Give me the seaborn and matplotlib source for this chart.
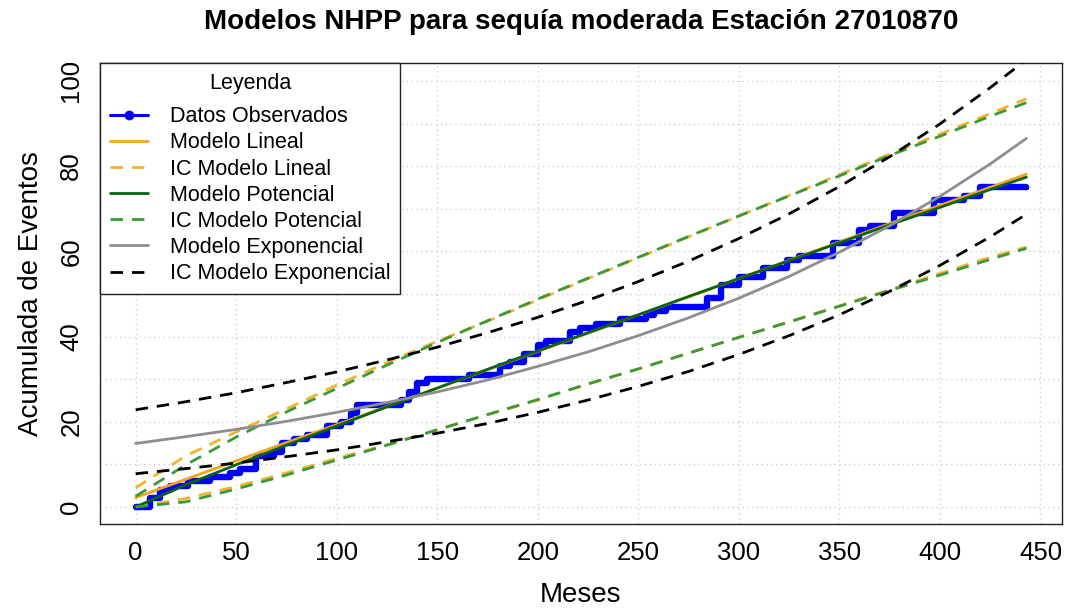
import numpy as np
import pandas as pd
import seaborn as sns
import matplotlib
matplotlib.use("Agg")
import matplotlib.pyplot as plt
from matplotlib.lines import Line2D

# ---------------- data ----------------
obs_mes = [0, 7, 12, 17, 26, 37, 47, 52, 60, 69, 73, 79, 85, 95, 102, 107, 110, 132, 136, 140,
           145, 166, 181, 186, 193, 200, 204, 216, 221, 229, 241, 254, 258, 264, 284, 291, 300, 312, 324, 330,
           347, 360, 365, 377, 397, 412, 420, 443]
obs_acum = [0, 2, 4, 5, 6, 7, 8, 9, 12, 13, 15, 16, 17, 19, 20, 22, 24, 25, 27, 29,
            30, 31, 33, 34, 36, 38, 39, 41, 42, 43, 44, 45, 46, 47, 49, 52, 54, 56, 58, 59,
            62, 65, 66, 69, 72, 73, 75, 75]

mod_mes = [0, 25, 50, 75, 100, 125, 150, 175, 200, 225, 250, 275, 300, 325, 350, 375, 400, 425, 443]
lineal = [2.2, 6.5, 10.8, 15.1, 19.3, 23.6, 27.9, 32.2, 36.5, 40.8, 45.1, 49.3, 53.6, 57.9, 62.2, 66.5, 70.8, 75.0, 78.1]
ic_lin_sup = [4.5, 12.0, 17.6, 23.0, 28.6, 33.9, 38.9, 43.6, 48.6, 53.6, 58.5, 63.4, 68.3, 73.1, 78.0, 82.8, 87.5, 92.3, 95.8]
ic_lin_inf = [0.0, 2.0, 4.8, 8.0, 11.4, 14.6, 18.1, 21.6, 25.1, 28.8, 32.4, 36.1, 39.8, 43.5, 47.2, 51.0, 54.8, 58.6, 61.0]
potencial = [0.0, 5.2, 9.9, 14.5, 19.0, 23.5, 27.9, 32.3, 36.6, 40.9, 45.1, 49.4, 53.6, 57.8, 62.0, 66.2, 70.3, 74.5, 77.4]
ic_pot_sup = [2.5, 9.9, 16.4, 22.3, 27.8, 33.3, 38.6, 43.7, 48.8, 53.7, 58.6, 63.5, 68.3, 73.0, 77.7, 82.5, 87.0, 91.7, 94.9]
ic_pot_inf = [0.0, 1.2, 4.2, 7.5, 11.0, 14.5, 18.1, 21.7, 25.2, 28.9, 32.4, 36.1, 39.8, 43.4, 47.1, 50.8, 54.4, 58.1, 60.7]
exponencial = [14.9, 16.5, 18.2, 20.1, 22.2, 24.5, 27.0, 29.8, 33.0, 36.4, 40.2, 44.4, 49.0, 54.1, 59.8, 66.0, 72.9, 80.5, 86.5]
ic_exp_sup = [22.8, 24.7, 26.8, 29.2, 31.7, 34.5, 37.5, 40.9, 44.5, 48.5, 52.9, 57.7, 63.0, 68.8, 75.2, 82.2, 89.9, 98.4, 105.0]
ic_exp_inf = [7.8, 9.0, 10.3, 11.8, 13.4, 15.3, 17.3, 19.6, 22.2, 25.1, 28.3, 31.8, 35.8, 40.2, 45.1, 50.6, 56.7, 63.4, 68.7]

x_ticks = [0, 50, 100, 150, 200, 250, 300, 350, 400, 450]
y_ticks = [0, 20, 40, 60, 80, 100]
y_grid = [0, 10, 20, 30, 40, 50, 60, 70, 80, 90, 100]

titulo = "Modelos NHPP para sequía moderada Estación 27010870"
etiquetas = ["Datos Observados", "Modelo Lineal", "IC Modelo Lineal", "Modelo Potencial",
             "IC Modelo Potencial", "Modelo Exponencial", "IC Modelo Exponencial"]

# ---------------- style ----------------
sns.set_style("white")
plt.rcParams['font.family'] = ['Liberation Sans', 'DejaVu Sans']
plt.rcParams['text.color'] = 'black'
plt.rcParams['axes.labelcolor'] = 'black'
plt.rcParams['xtick.color'] = 'black'
plt.rcParams['ytick.color'] = 'black'

C_OBS = "#0000FF"
C_LIN = "#F5A31C"
C_ICLIN = "#F2B42C"
C_POT = "#0A6414"
C_ICPOT = "#3A9A3A"
C_EXP = "#8E8E8E"
C_ICEXP = "#000000"
DASH = (4.5, 3.2)

fig = plt.figure(figsize=(10.67, 6.11), dpi=100)
ax = fig.add_axes([100 / 1067, 1 - 524 / 611, 962 / 1067, 461 / 611])

obs = pd.DataFrame({"mes": obs_mes, "acum": obs_acum})
mod = pd.DataFrame({"mes": mod_mes, "lin": lineal, "lin_s": ic_lin_sup, "lin_i": ic_lin_inf,
                    "pot": potencial, "pot_s": ic_pot_sup, "pot_i": ic_pot_inf,
                    "exp": exponencial, "exp_s": ic_exp_sup, "exp_i": ic_exp_inf})

# observed
sns.lineplot(data=obs, x="mes", y="acum", ax=ax, color=C_OBS, lw=4.6,
             drawstyle="steps-post", estimator=None, zorder=3)
sns.scatterplot(data=obs, x="mes", y="acum", ax=ax, color=C_OBS, s=16,
                edgecolor=C_OBS, linewidth=0, zorder=3)


def dashed(col, color, z, lw=2.0):
    sns.lineplot(data=mod, x="mes", y=col, ax=ax, color=color, lw=lw,
                 estimator=None, zorder=z)
    ax.lines[-1].set_dashes(DASH)


sns.lineplot(data=mod, x="mes", y="lin", ax=ax, color=C_LIN, lw=2.0, estimator=None, zorder=4)
dashed("lin_s", C_ICLIN, 4.1)
dashed("lin_i", C_ICLIN, 4.1)
sns.lineplot(data=mod, x="mes", y="pot", ax=ax, color=C_POT, lw=2.0, estimator=None, zorder=4.2)
dashed("pot_s", C_ICPOT, 4.3)
dashed("pot_i", C_ICPOT, 4.3)
sns.lineplot(data=mod, x="mes", y="exp", ax=ax, color=C_EXP, lw=2.0, estimator=None, zorder=4.4)
dashed("exp_s", C_ICEXP, 4.5)
dashed("exp_i", C_ICEXP, 4.5)

# axes
ax.set_xlim(-17.72, 460.72)
ax.set_ylim(-4.0, 104.2)
ax.set_xticks(x_ticks)
ax.set_xticklabels([str(v) for v in x_ticks])
ax.set_yticks(y_ticks)
ax.set_yticklabels([str(v) for v in y_ticks], rotation=90, va="center")
ax.set_yticks(y_grid, minor=True)
ax.tick_params(axis="both", which="major", labelsize=18.5, length=7, width=1,
               color="#222222", labelcolor="black", direction="out")
ax.tick_params(axis="x", which="major", pad=5)
ax.tick_params(axis="y", which="major", pad=5)
ax.tick_params(axis="y", which="minor", length=0)
ax.grid(False)
ax.grid(True, axis="x", which="major", color="#CFCFCF", linestyle=(0, (1, 2.5)), lw=1)
ax.grid(True, axis="y", which="both", color="#CFCFCF", linestyle=(0, (1, 2.5)), lw=1)
ax.set_axisbelow(True)
for s in ax.spines.values():
    s.set_visible(True)
    s.set_color("#222222")
    s.set_linewidth(1.0)

ax.set_xlabel("Meses", fontsize=20, va="center", ha="center", color="black")
ax.xaxis.set_label_coords(0.5, -0.154)
ax.set_ylabel("Acumulada de Eventos", fontsize=20, va="center", ha="center", color="black")
ax.yaxis.set_label_coords(-0.072, 0.5)

fig.text(581 / 1067, 1 - 22 / 611, titulo, ha="center", va="center",
         fontsize=20, fontweight="bold", color="black")

# legend
handles = [
    Line2D([], [], color=C_OBS, lw=2.2, marker="o", ms=6),
    Line2D([], [], color=C_LIN, lw=2.0),
    Line2D([], [], color=C_ICLIN, lw=2.0, dashes=DASH),
    Line2D([], [], color=C_POT, lw=2.0),
    Line2D([], [], color=C_ICPOT, lw=2.0, dashes=DASH),
    Line2D([], [], color=C_EXP, lw=2.0),
    Line2D([], [], color=C_ICEXP, lw=2.0, dashes=DASH),
]
leg = ax.legend(handles, etiquetas, loc="upper left", bbox_to_anchor=(0, 1),
                borderaxespad=0, frameon=True, fancybox=False, framealpha=1,
                edgecolor="#222222", fontsize=15.5, title="Leyenda", title_fontsize=15.5,
                handlelength=1.8, handletextpad=1.0, labelspacing=0.24, borderpad=0.45)
leg.get_frame().set_linewidth(1.0)
leg._legend_box.sep = 9
for t in leg.get_texts():
    t.set_color("black")
leg.get_title().set_color("black")
leg.set_zorder(10)

fig.savefig("out.png", dpi=100)
